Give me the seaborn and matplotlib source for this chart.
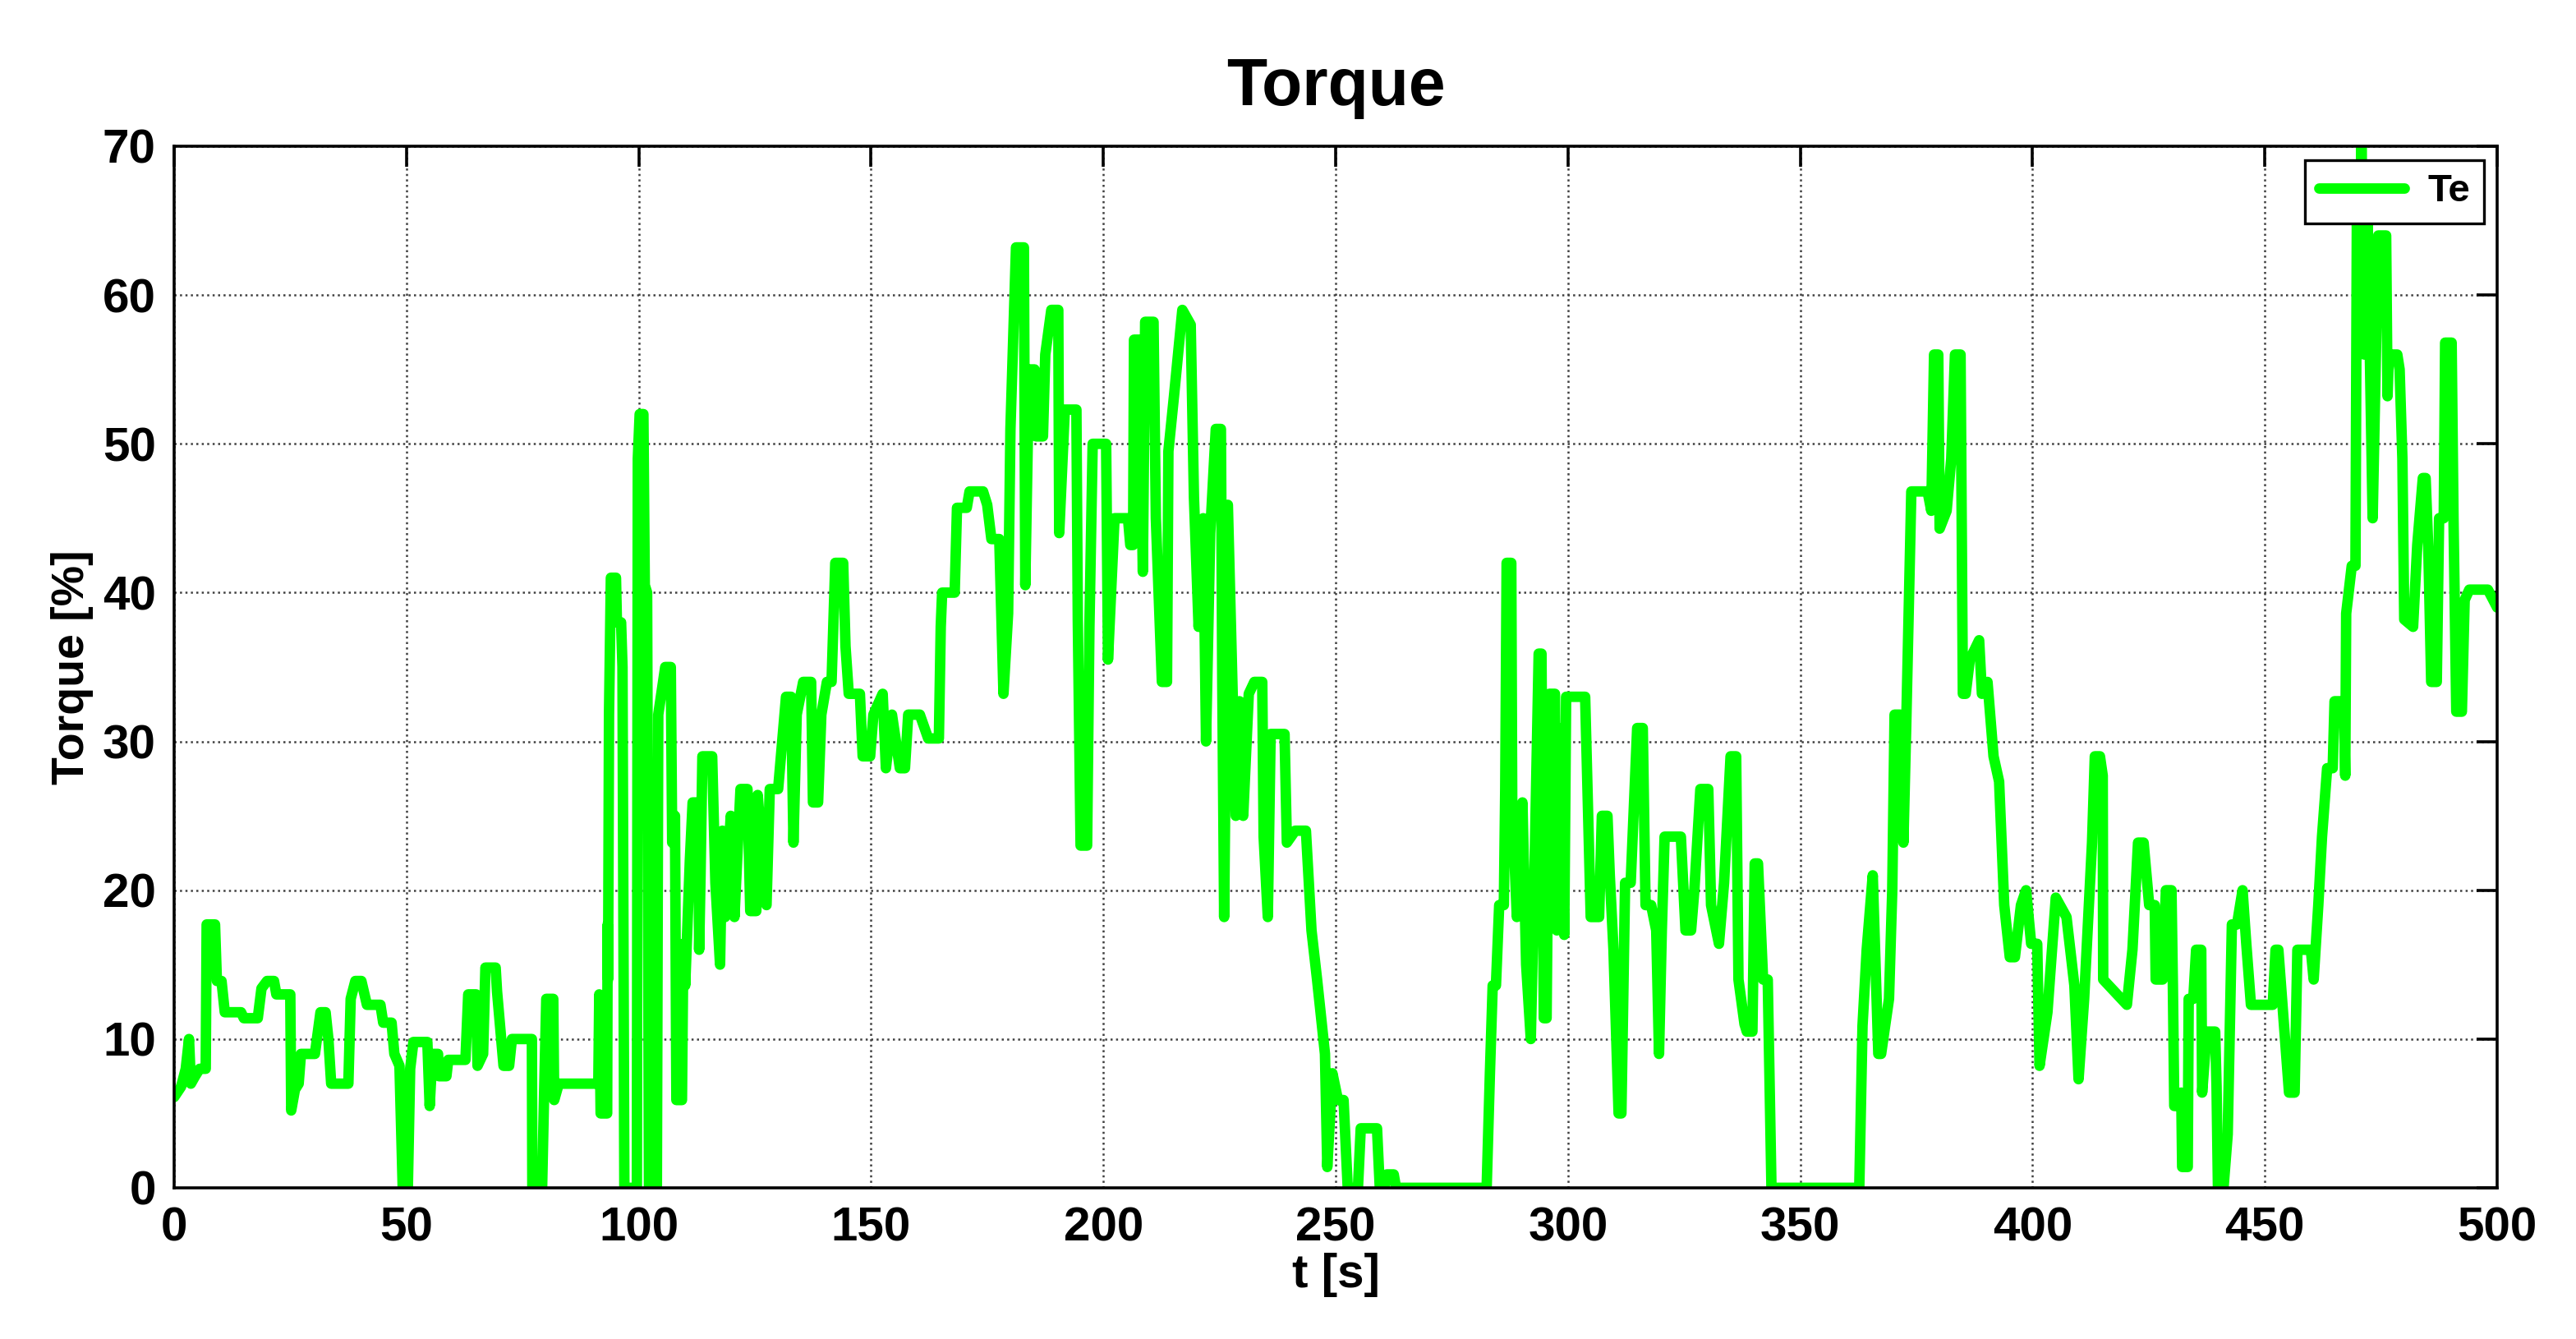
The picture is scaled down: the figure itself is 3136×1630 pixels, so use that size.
import matplotlib
matplotlib.use("Agg")
import matplotlib.pyplot as plt
import pandas as pd
import seaborn as sns

# torque trace, (t [s], Te [%])
time_s = [
    0, 1.5, 2.5, 3.2, 3.6, 4.5, 5.5, 6.8, 7.0, 8.8, 9.2, 10.2, 10.9, 14.4, 15, 18,
    18.8, 20, 21.5, 22, 25, 25.2, 26, 26.8, 27.3, 30.3, 31.5, 32.6, 33.2, 33.8, 37.5,
    38, 39, 40.3, 41.5, 44.4, 45, 46.8, 47.4, 48.5, 49.2, 50.3, 50.8, 51.5, 54.5, 55,
    55.6, 56.8, 57, 58.6, 59, 62.7, 63.3, 65, 65.3, 66.5, 67, 69.2, 69.5, 70.9, 72.1,
    72.7, 77, 77.1, 79.2, 79.6, 80.1, 81.6, 81.8, 82.8,
    91.3, 91.5, 91.8, 93.2, 93.3, 93.4, 93.6, 94, 95.1, 95.3, 96.2, 96.5, 96.9, 99.6,
    99.8, 100.2, 101, 101.3, 101.8, 102.2, 103.9, 104.2, 105.7, 106.9, 107.2, 107.8,
    108.1, 109.3, 109.6, 110, 111, 111.6, 112.8, 113, 113.3, 113.7, 115.8, 116.5,
    117.5, 118, 118.6, 119.8, 120.6, 121.9, 123.4, 124, 125.3, 125.6, 127.5, 128.2,
    130, 131.7, 132.8, 133.3, 134, 135.4, 137.1, 137.5, 138.6, 139.3, 140.5, 141.5,
    142.3, 144, 144.5, 145.2, 147.6, 148.2, 149.8, 150.5, 152.5, 153.2, 154.5, 156.2,
    157.3, 158, 160.5, 162.3, 164.6, 165, 165.3, 168.0,
    168.5, 170.6, 171.2, 174.1, 175, 175.9, 177.6, 178.5, 179.5, 180, 181.2, 182.9,
    183.2, 184, 185.2, 185.5, 187, 187.5, 188.8, 190.3, 190.5, 191.7, 194.2, 194.5,
    195.1, 196.5, 197, 197.7, 200.6, 201, 202.4, 205.3, 205.8, 206.4, 206.6, 207.7,
    208.5, 209, 210.8, 211.3, 212.6, 213.7, 214, 215.2, 217, 218.8, 219.5, 220.5,
    221.5, 222.1, 223, 224.2, 225.3, 225.6, 226, 226.8, 228.5, 229.3, 230.1, 231.3,
    232.5, 234.2, 234.5, 235.4, 236, 239, 239.5, 241.3, 243.6, 244.8, 246, 247.7,
    248.2, 249.3, 250.5, 251.7,
    252.6, 254.8, 255.4, 258.9, 259.5, 260.5, 261, 262.5, 263, 282.5, 283.2, 283.8,
    284.5, 285.2, 286.2, 286.5, 286.8, 287.8, 288, 289, 290.2, 291, 292, 292.8, 293.7,
    294.3, 294.8, 295.4, 296, 297.2, 297.6, 298.2, 299.2, 299.6, 303.7, 304.9, 306.7,
    307.3, 308.5, 309, 309.8, 310.9, 311.5, 312.3, 313.5, 314.9, 316.1, 316.7, 317.9,
    319, 319.6, 320.2, 320.8, 324.3, 325.3, 326.5, 327.2, 328.5, 330.2, 330.8, 332.5,
    333.6, 335, 336.2, 336.7, 338, 338.5, 339.7, 340.2, 340.9, 342, 343, 343.8,
    362.7, 363.4, 364.3, 365.6, 366.8, 367.4, 369.1, 369.8, 370.3, 371.5, 372.2,
    372.8, 373.9, 377.4, 378.2, 378.8, 379.7, 380, 381.5, 382.5, 383.3, 384.5, 385,
    385.6, 386.5, 388.5, 389.1, 390.3, 391.6, 392.8, 393.9, 395.1, 396.2, 397.5,
    398.6, 399.7, 401, 401.5, 403.2, 405, 407.3, 409, 409.9, 411.1, 412.8, 413.4,
    414.5, 415.1, 415.2, 419.1, 420.3, 421.5, 422.7, 423.9,
    425.1, 426.3, 426.5, 428, 428.7, 429.9, 430.2, 430.5, 431.6, 432, 432.2, 433.4,
    433.6, 434.6, 435.2, 436.3, 436.5, 437.5, 439.3, 439.6, 439.9, 441.1, 442, 442.9,
    444, 445.2, 446, 447, 451.7, 452.3, 452.9, 454, 455.2, 456.4, 457, 459.9, 460.5,
    461.5, 462.3, 463.4, 464.6, 465, 467, 467.3, 467.5, 468.7, 469.5, 469.8, 470.3,
    470.8, 471.4, 472.1, 473.2, 474.4, 476.1, 476.4, 476.7, 478.5, 479, 479.6, 480,
    481.9, 482.8, 484, 484.6, 485.2, 485.8, 487, 487.5, 488.5, 488.8, 490.2, 490.6,
    491.2, 492.4, 493, 494, 498, 500,
]
torque_pct = [
    6.1, 6.8, 8, 10, 7, 7.5, 8, 8, 17.7, 17.7, 13.9, 13.9, 11.8, 11.8, 11.4, 11.4,
    13.4, 13.9, 13.9, 13, 13, 5.2, 6.6, 7, 9, 9, 11.8, 11.8, 10, 7, 7,
    12.7, 13.9, 13.9, 12.3, 12.3, 11.1, 11.1, 9, 8.2, 0, 0, 8, 9.8, 9.8, 5.5,
    9, 9, 7.5, 7.5, 8.6, 8.6, 13, 13, 8.2, 9, 14.8, 14.8, 13.2, 8.2, 8.2,
    10, 10, 0, 0, 5.9, 12.7, 12.7, 5.9, 7,
    7, 13, 5, 5, 17.7, 14, 31.8, 41, 41, 38, 38, 35, 0, 0,
    49, 52, 52, 40.5, 40, 0, 0, 31.8, 35, 35, 23.2, 25,
    5.9, 5.9, 16.4, 13.6, 22, 25.9, 25.9, 16, 21, 29, 29, 20.5,
    15, 24, 18.2, 25, 18.2, 26.8, 26.8, 18.6, 18.6, 26.4, 19, 26.8,
    26.8, 33, 33, 23.2, 31.8, 34, 34, 25.9, 25.9, 31.8, 34, 34,
    42, 42, 36.4, 33.2, 33.2, 29, 29, 31.8, 33.2, 28.2, 31.8, 28.2,
    28.2, 31.8, 31.8, 30.2, 30.2, 37.7, 40, 40,
    45.7, 45.7, 46.8, 46.8, 45.9, 43.6, 43.6, 33.2, 38.6, 51, 63.2, 63.2,
    40.5, 55, 55, 50.5, 50.5, 56, 59, 59, 44, 52.3, 52.3, 38.2,
    23, 23, 37.7, 50, 50, 35.5, 45, 45, 43.2, 43.2, 57, 57,
    41.4, 58.2, 58.2, 45, 34, 34, 49.5, 53.2, 59, 58, 46.4, 37.7,
    45, 30, 44, 51, 51, 34, 18.2, 45.9, 25, 32.7, 25, 33.2,
    34, 34, 23.6, 18.2, 30.5, 30.5, 23.2, 24, 24, 17.3, 14, 9,
    1.4, 7.7, 5.9, 5.9,
    0, 0, 4, 4, 0, 0, 0.9, 0.9, 0, 0, 7.7, 13.6,
    13.6, 19, 19, 26.8, 42, 42, 25.9, 18.2, 25.9, 15, 10, 21.4, 35.9,
    35.9, 11.4, 11.4, 33.2, 33.2, 17.3, 30.9, 17, 33, 33, 18.2, 18.2,
    25, 25, 21, 16, 5, 5, 20.5, 20.5, 30.9, 30.9, 19, 19,
    17.3, 9, 17.3, 23.6, 23.6, 17.3, 17.3, 20, 26.8, 26.8, 19, 16.4,
    20.5, 29, 29, 14, 11, 10.5, 10.5, 21.8, 21.8, 14, 14, 0,
    0, 10.9, 16, 21, 9, 9, 12.7, 20, 31.8, 31.8, 23.2,
    31, 46.8, 46.8, 45.5, 56, 56, 44.3, 45.5, 49, 56, 56, 33.2,
    33.2, 35.5, 36.8, 33.2, 34, 29, 27.3, 19, 15.5, 15.5, 19,
    20, 16.4, 16.4, 8.2, 11.8, 19.5, 18.2, 13.6, 7.3, 12.7, 23.2, 29,
    29, 27.7, 14, 12.7, 12.3, 16, 23.2, 23.2,
    19, 19, 14, 14, 20, 20, 13.6, 5.5, 5.5, 6.4, 1.4, 1.4,
    12.7, 12.7, 16, 16, 6.4, 10.5, 10.5, 6.8, 0, 0, 3.6, 17.7,
    17.7, 20, 16.4, 12.3, 12.3, 16, 16, 11.4, 6.4, 6.4, 16, 16, 14,
    19, 23.6, 28.2, 28.2, 32.7, 32.7, 27.7, 38.6, 41.8, 41.8, 65, 56,
    70, 56, 65, 45, 64, 64, 53.2, 56, 56, 55, 49, 38.2,
    37.7, 43.2, 47.7, 47.7, 42.7, 34, 34, 45, 45, 56.8, 56.8, 45,
    32, 32, 39.5, 40.2, 40.2, 39,
]

x_ticks = list(range(0, 501, 50))
y_ticks = list(range(0, 71, 10))

sns.set_style("white")
plt.rcParams["font.family"] = ["Liberation Sans", "DejaVu Sans"]
plt.rcParams["font.weight"] = "bold"
plt.rcParams["text.color"] = "black"
plt.rcParams["axes.labelcolor"] = "black"
plt.rcParams["xtick.color"] = "black"
plt.rcParams["ytick.color"] = "black"

df = pd.DataFrame({"t": time_s, "Te": torque_pct})

fig = plt.figure(figsize=(15.68, 8.15), dpi=200)
ax = fig.add_axes([0.0676, 0.1129, 0.9018, 0.7779])

sns.lineplot(data=df, x="t", y="Te", ax=ax, color="#00ff00",
             linewidth=4.6, estimator=None, sort=False, label="Te")

ax.set_xlim(0, 500)
ax.set_ylim(0, 70)
ax.set_xticks(x_ticks)
ax.set_yticks(y_ticks)
ax.tick_params(axis="both", direction="in", length=9, width=1.3,
               labelsize=21, top=True, right=True, pad=8)
for lbl in ax.get_xticklabels() + ax.get_yticklabels():
    lbl.set_fontweight("bold")
for sp in ax.spines.values():
    sp.set_visible(True)
    sp.set_color("black")
    sp.set_linewidth(1.3)

ax.grid(True, color="0.25", linestyle=":", linewidth=0.9)
ax.set_axisbelow(True)

ax.set_xlabel("t [s]", fontsize=21, fontweight="bold", labelpad=1)
ax.set_ylabel("Torque [%]", fontsize=20, fontweight="bold", labelpad=4)
ax.set_title("Torque", fontsize=29, fontweight="bold", pad=18)

leg = ax.legend(loc="upper right", fontsize=17, frameon=True, fancybox=False,
                handlelength=2.2, handletextpad=0.6, borderaxespad=0.35,
                borderpad=0.35)
leg.get_frame().set_edgecolor("black")
leg.get_frame().set_linewidth(1.2)
leg.get_frame().set_alpha(1.0)
for txt in leg.get_texts():
    txt.set_fontweight("bold")

fig.savefig("out.png", dpi=200)
